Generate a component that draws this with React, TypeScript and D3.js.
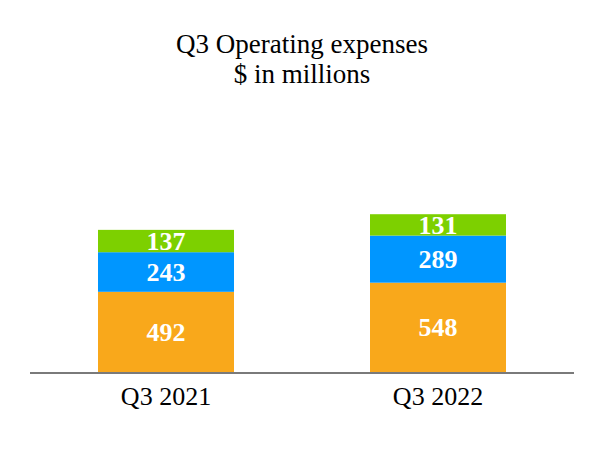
import React from 'react';
import { scaleBand, scaleLinear, stack } from 'd3';

const categories = ['Q3 2021', 'Q3 2022'];
const seriesNames = ['base', 'middle', 'top'];
const baseValues = [492, 548];
const middleValues = [243, 289];
const topValues = [137, 131];
const colors = ['#F9A81B', '#0096FF', '#7DD000'];
const titleLines = ['Q3 Operating expenses', '$ in millions'];

const W = 604;
const H = 450;
const font = "'Liberation Serif', 'Times New Roman', Times, serif";

export default function App() {
  const rows = categories.map((c, i) => ({
    cat: c,
    base: baseValues[i],
    middle: middleValues[i],
    top: topValues[i],
  }));

  const layers = stack<any>().keys(seriesNames)(rows);

  const x = scaleBand<string>()
    .domain(categories)
    .range([30, 574])
    .paddingInner(0.5)
    .paddingOuter(0.25);
  const y = scaleLinear().domain([0, 1000]).range([372, 209]);

  return (
    <svg
      width={W}
      height={H}
      style={{ position: 'absolute', left: 0, top: 0, background: '#fff', fontFamily: font }}
    >
      {titleLines.map((t, i) => (
        <text
          key={t}
          x={W / 2}
          y={53 + i * 30}
          textAnchor='middle'
          style={{ fontFamily: font, fontSize: 27 }}
          fill='#000'
        >
          {t}
        </text>
      ))}

      {layers.map((layer, li) => (
        <g key={layer.key}>
          {layer.map((d, i) => {
            const y0 = y(d[0]);
            const y1 = y(d[1]);
            const bx = x(categories[i])!;
            return (
              <g key={i}>
                <rect x={bx} y={y1} width={x.bandwidth()} height={y0 - y1} fill={colors[li]} />
                <text
                  x={bx + x.bandwidth() / 2}
                  y={(y0 + y1) / 2}
                  dy='0.34em'
                  textAnchor='middle'
                  style={{ fontFamily: font, fontSize: 26, fontWeight: 'bold' }}
                  fill='#fff'
                >
                  {d[1] - d[0]}
                </text>
              </g>
            );
          })}
        </g>
      ))}

      <line x1={30} x2={574} y1={373} y2={373} stroke='#7a7a7a' strokeWidth={2} />

      {categories.map(c => (
        <text
          key={c}
          x={x(c)! + x.bandwidth() / 2}
          y={405}
          textAnchor='middle'
          style={{ fontFamily: font, fontSize: 26 }}
          fill='#000'
        >
          {c}
        </text>
      ))}
    </svg>
  );
}
